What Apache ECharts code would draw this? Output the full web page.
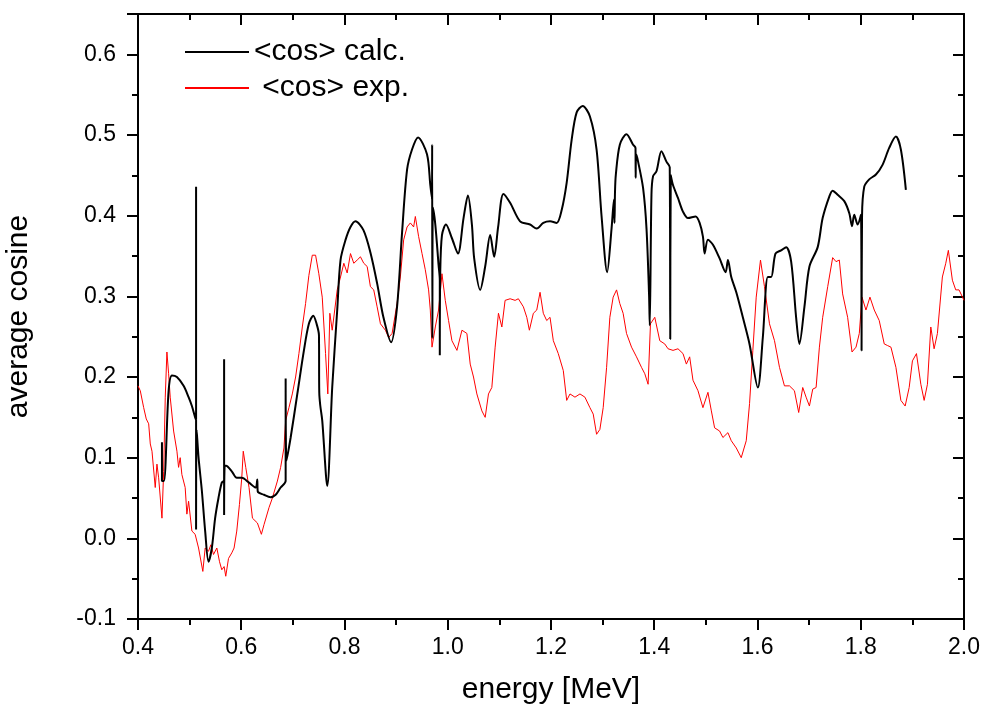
<!DOCTYPE html>
<html>
<head>
<meta charset="utf-8">
<title>average cosine</title>
<script src="https://cdn.jsdelivr.net/npm/echarts@6/dist/echarts.min.js"></script>
<style>
    html, body {margin: 0; padding: 0; background: #ffffff;}
    #chart {width: 984px; height: 713px;}
</style>
</head>
<body>
<div id="chart"></div>
<script>
// energy [MeV], <cos>
var calcPoints = [
    [0.4464, 0.119], [0.4464, 0.071], [0.4502, 0.071], [0.4593, 0.183], [0.4657, 0.202], [0.4754, 0.200],
    [0.4883, 0.189], [0.498, 0.175], [0.5044, 0.164], [0.5107, 0.150],
    [0.5125, 0.147], [0.5125, 0.436], [0.5125, 0.011], [0.5135, 0.135],
    [0.5173, 0.100], [0.5237, 0.059], [0.5301, 0.009], [0.5366, -0.029], [0.543, -0.012], [0.5494, 0.025],
    [0.5559, 0.050], [0.5623, 0.069],
    [0.5668, 0.072], [0.5668, 0.222], [0.5668, 0.029], [0.568, 0.090],
    [0.5706, 0.090], [0.5816, 0.083], [0.5913, 0.075], [0.601, 0.075], [0.6151, 0.069], [0.628, 0.063],
    [0.631, 0.073], [0.632, 0.058], [0.644, 0.054], [0.657, 0.051], [0.6667, 0.054], [0.6763, 0.063],
    [0.686, 0.071], [0.686, 0.198], [0.6875, 0.096],
    [0.6957, 0.125], [0.7086, 0.179], [0.7214, 0.233], [0.731, 0.266], [0.7395, 0.276], [0.7459, 0.266],
    [0.7505, 0.252], [0.7511, 0.181], [0.753, 0.165], [0.7569, 0.146], [0.7666, 0.065], [0.7762, 0.187],
    [0.7859, 0.283], [0.7923, 0.345], [0.802, 0.370], [0.8116, 0.386], [0.8213, 0.393], [0.8367, 0.382],
    [0.8503, 0.354], [0.8632, 0.316], [0.8754, 0.274], [0.8903, 0.243], [0.9018, 0.287], [0.9115, 0.379],
    [0.9212, 0.457], [0.9308, 0.482], [0.9424, 0.497], [0.9598, 0.476], [0.9662, 0.438],
    [0.9695, 0.420], [0.9698, 0.488], [0.9702, 0.248], [0.9712, 0.410],
    [0.9759, 0.389], [0.9822, 0.339], [0.9846, 0.320], [0.9846, 0.227], [0.9855, 0.330], [0.9888, 0.376],
    [0.9965, 0.389], [1.0081, 0.372], [1.0197, 0.353], [1.0306, 0.397], [1.0391, 0.425], [1.0468, 0.389],
    [1.0512, 0.347], [1.0628, 0.308], [1.0725, 0.337], [1.0822, 0.376], [1.0899, 0.349], [1.0976, 0.386],
    [1.1078, 0.427], [1.1208, 0.416], [1.1401, 0.393], [1.1594, 0.389], [1.1724, 0.384], [1.1851, 0.391],
    [1.1981, 0.393], [1.211, 0.391], [1.2207, 0.407], [1.2304, 0.441], [1.24, 0.494], [1.2497, 0.528],
    [1.2613, 0.536], [1.2754, 0.523], [1.2883, 0.482], [1.298, 0.399], [1.3088, 0.330], [1.3173, 0.384],
    [1.322, 0.420], [1.323, 0.391], [1.324, 0.430], [1.3256, 0.451], [1.3333, 0.488], [1.3463, 0.501],
    [1.359, 0.488], [1.3637, 0.484], [1.364, 0.447], [1.365, 0.476], [1.3687, 0.467], [1.3784, 0.434],
    [1.385, 0.384], [1.39, 0.301], [1.3913, 0.264], [1.3946, 0.426], [1.3977, 0.449], [1.4043, 0.455],
    [1.4139, 0.480], [1.4236, 0.467], [1.430, 0.460], [1.431, 0.247], [1.432, 0.450], [1.4363, 0.438],
    [1.4459, 0.422], [1.4556, 0.405], [1.4653, 0.397], [1.4802, 0.399], [1.4879, 0.391], [1.4943, 0.374],
    [1.4976, 0.353], [1.504, 0.370], [1.5137, 0.364], [1.5266, 0.347], [1.5382, 0.330], [1.5427, 0.345],
    [1.5492, 0.324], [1.5589, 0.305], [1.5716, 0.274], [1.5845, 0.241], [1.6006, 0.187], [1.6103, 0.249],
    [1.62, 0.324], [1.6265, 0.324], [1.6348, 0.353], [1.6458, 0.357], [1.6555, 0.361], [1.6652, 0.343],
    [1.6748, 0.274], [1.6812, 0.241], [1.6909, 0.287], [1.7006, 0.337], [1.7166, 0.361], [1.7262, 0.397],
    [1.7392, 0.424], [1.7455, 0.431], [1.7552, 0.426], [1.7681, 0.418], [1.7778, 0.403], [1.783, 0.387],
    [1.7874, 0.401], [1.7939, 0.389], [1.8004, 0.401], [1.8016, 0.233], [1.8025, 0.400], [1.8068, 0.436],
    [1.8164, 0.445], [1.8294, 0.451], [1.8422, 0.463], [1.8551, 0.484], [1.868, 0.498], [1.8777, 0.482],
    [1.8874, 0.432]
];

var expPoints = [
    [0.400, 0.189], [0.4044, 0.183], [0.4077, 0.185], [0.411, 0.162], [0.416, 0.148], [0.4207, 0.142],
    [0.4238, 0.117], [0.4271, 0.108], [0.4334, 0.063], [0.4367, 0.092], [0.44, 0.075], [0.4464, 0.025],
    [0.4497, 0.083], [0.4528, 0.175], [0.456, 0.231], [0.4593, 0.204], [0.4624, 0.175], [0.469, 0.133],
    [0.4754, 0.108], [0.4786, 0.088], [0.4817, 0.100], [0.485, 0.079], [0.4914, 0.063], [0.4947, 0.030],
    [0.498, 0.046], [0.5044, 0.009], [0.5107, 0.005], [0.5173, -0.012], [0.5256, -0.041], [0.5301, -0.012],
    [0.5366, -0.016], [0.5411, -0.008], [0.5463, -0.020], [0.5527, -0.012], [0.5579, -0.029], [0.5623, -0.039],
    [0.5668, -0.035], [0.570, -0.047], [0.5753, -0.025], [0.5817, -0.018], [0.5861, -0.012], [0.5913, 0.009],
    [0.5965, 0.042], [0.601, 0.075], [0.6039, 0.108], [0.6087, 0.088], [0.6151, 0.063], [0.6217, 0.025],
    [0.6313, 0.019], [0.639, 0.005], [0.6441, 0.017], [0.6537, 0.038], [0.6603, 0.050], [0.67, 0.071],
    [0.6763, 0.088], [0.6827, 0.112], [0.686, 0.146], [0.6924, 0.162], [0.6989, 0.179], [0.7053, 0.200],
    [0.7117, 0.229], [0.7183, 0.262], [0.7246, 0.291], [0.731, 0.326], [0.7376, 0.351], [0.744, 0.351],
    [0.7503, 0.328], [0.7569, 0.299], [0.7633, 0.229], [0.7677, 0.179], [0.7716, 0.279], [0.7762, 0.258],
    [0.7859, 0.308], [0.7923, 0.324], [0.7987, 0.341], [0.8052, 0.329], [0.8116, 0.353], [0.818, 0.341],
    [0.8246, 0.345], [0.8309, 0.349], [0.8373, 0.341], [0.8439, 0.337], [0.8502, 0.312], [0.8566, 0.308],
    [0.8632, 0.287], [0.8696, 0.266], [0.8792, 0.258], [0.8856, 0.249], [0.8922, 0.254], [0.9018, 0.291],
    [0.9082, 0.324], [0.9146, 0.370], [0.9212, 0.386], [0.9276, 0.391], [0.9339, 0.386], [0.9372, 0.399],
    [0.9436, 0.374], [0.9502, 0.353], [0.9565, 0.333], [0.9629, 0.308], [0.9662, 0.283], [0.9695, 0.237],
    [0.9759, 0.262], [0.9822, 0.283], [0.9888, 0.328], [0.9952, 0.295], [1.0016, 0.270], [1.0081, 0.245],
    [1.0178, 0.233], [1.0275, 0.258], [1.0371, 0.254], [1.0435, 0.216], [1.0499, 0.200], [1.0564, 0.179],
    [1.0661, 0.158], [1.0725, 0.150], [1.0789, 0.179], [1.0854, 0.187], [1.0918, 0.237], [1.0982, 0.279],
    [1.1048, 0.262], [1.1111, 0.295], [1.1208, 0.297], [1.1305, 0.295], [1.1368, 0.297], [1.1465, 0.287],
    [1.1531, 0.274], [1.1581, 0.258], [1.1658, 0.279], [1.1724, 0.283], [1.1788, 0.305], [1.1851, 0.279],
    [1.1917, 0.270], [1.1981, 0.274], [1.2045, 0.245], [1.2141, 0.229], [1.2238, 0.208], [1.2304, 0.171],
    [1.2368, 0.179], [1.2464, 0.175], [1.2561, 0.179], [1.2657, 0.175], [1.2754, 0.162], [1.2818, 0.154],
    [1.2883, 0.129], [1.2947, 0.135], [1.3011, 0.162], [1.3077, 0.212], [1.314, 0.274], [1.3204, 0.299],
    [1.327, 0.308], [1.3333, 0.291], [1.3397, 0.279], [1.3463, 0.254], [1.356, 0.237], [1.3656, 0.225],
    [1.3753, 0.212], [1.3817, 0.204], [1.3881, 0.191], [1.3927, 0.266], [1.401, 0.274], [1.4107, 0.245],
    [1.4203, 0.241], [1.4267, 0.235], [1.4364, 0.233], [1.446, 0.235], [1.4557, 0.229], [1.4622, 0.216],
    [1.4686, 0.225], [1.475, 0.196], [1.4847, 0.183], [1.4943, 0.162], [1.504, 0.181], [1.5106, 0.158],
    [1.5169, 0.137], [1.5266, 0.133], [1.533, 0.125], [1.5427, 0.131], [1.5492, 0.121], [1.5589, 0.112],
    [1.5685, 0.100], [1.5782, 0.121], [1.5846, 0.167], [1.591, 0.233], [1.5975, 0.299], [1.6058, 0.345],
    [1.6135, 0.312], [1.6232, 0.266], [1.6329, 0.245], [1.6426, 0.212], [1.6522, 0.189], [1.6619, 0.189],
    [1.6715, 0.183], [1.6798, 0.156], [1.6876, 0.187], [1.6941, 0.175], [1.7006, 0.164], [1.707, 0.185],
    [1.7135, 0.187], [1.7199, 0.237], [1.7263, 0.274], [1.736, 0.312], [1.7456, 0.348], [1.7521, 0.343],
    [1.7585, 0.345], [1.7649, 0.303], [1.7746, 0.274], [1.7831, 0.231], [1.7908, 0.237], [1.7972, 0.254],
    [1.8024, 0.299], [1.8101, 0.283], [1.8178, 0.299], [1.8262, 0.283], [1.8358, 0.270], [1.8455, 0.241],
    [1.8519, 0.239], [1.8585, 0.237], [1.8681, 0.212], [1.8777, 0.171], [1.886, 0.164], [1.8938, 0.187],
    [1.9001, 0.220], [1.9079, 0.229], [1.9164, 0.191], [1.9228, 0.171], [1.9292, 0.191], [1.9357, 0.262],
    [1.9421, 0.235], [1.9485, 0.254], [1.9581, 0.324], [1.9647, 0.341], [1.9697, 0.357], [1.9775, 0.320],
    [1.9840, 0.308], [1.9904, 0.308], [2.000, 0.295]
];

var seriesNames = ['<cos> calc.', ' <cos> exp.'];
var xRange = [0.4, 2.0];
var yRange = [-0.1, 0.65];

var FONT = '"Liberation Sans", Arial, sans-serif';

var myChart = echarts.init(document.getElementById('chart'), null, {renderer: 'canvas'});

var axisLine = {show: true, onZero: false, lineStyle: {color: '#000', width: 2}};

var option = {
    animation: false,
    backgroundColor: '#ffffff',
    // fixed plot box, do not let the names push it around
    grid: {left: 138, right: 20, top: 14, bottom: 94, containLabel: false, outerBoundsMode: 'none'},
    legend: {
        orient: 'vertical',
        left: 179,
        top: 32,
        itemWidth: 64,
        itemHeight: 14,
        itemGap: 6,
        data: seriesNames,
        itemStyle: {opacity: 0},
        textStyle: {fontFamily: FONT, fontSize: 30, color: '#000'}
    },
    xAxis: [{
        type: 'value',
        min: xRange[0],
        max: xRange[1],
        interval: 0.2,
        name: 'energy [MeV]',
        nameLocation: 'middle',
        nameGap: 56,
        nameTextStyle: {fontFamily: FONT, fontSize: 30, color: '#000'},
        axisLine: axisLine,
        axisTick: {show: true, inside: false, length: 11, lineStyle: {color: '#000', width: 2}},
        minorTick: {show: true, splitNumber: 2, length: 6, lineStyle: {color: '#000', width: 2}},
        axisLabel: {
            margin: 17,
            fontFamily: FONT,
            fontSize: 23,
            color: '#000',
            formatter: function (v) { return v.toFixed(1); }
        },
        splitLine: {show: false}
    }, {
        type: 'value',
        position: 'top',
        min: xRange[0],
        max: xRange[1],
        interval: 0.2,
        axisLine: axisLine,
        axisTick: {show: true, inside: true, length: 11, lineStyle: {color: '#000', width: 2}},
        minorTick: {show: true, splitNumber: 2, length: 6, lineStyle: {color: '#000', width: 2}},
        axisLabel: {show: false},
        splitLine: {show: false}
    }],
    yAxis: [{
        type: 'value',
        min: yRange[0],
        max: yRange[1],
        interval: 0.1,
        name: 'average cosine',
        nameLocation: 'middle',
        nameGap: 104,
        nameTextStyle: {fontFamily: FONT, fontSize: 30, color: '#000'},
        axisLine: axisLine,
        axisTick: {show: true, inside: false, length: 11, lineStyle: {color: '#000', width: 2}},
        minorTick: {show: true, splitNumber: 2, length: 6, lineStyle: {color: '#000', width: 2}},
        axisLabel: {
            margin: 22,
            fontFamily: FONT,
            fontSize: 23,
            color: '#000',
            showMaxLabel: false,
            formatter: function (v) { return v > 0.62 ? '' : v.toFixed(1); }
        },
        splitLine: {show: false}
    }, {
        type: 'value',
        position: 'right',
        min: yRange[0],
        max: yRange[1],
        interval: 0.1,
        axisLine: axisLine,
        axisTick: {show: true, inside: true, length: 11, lineStyle: {color: '#000', width: 2}},
        minorTick: {show: true, splitNumber: 2, length: 6, lineStyle: {color: '#000', width: 2}},
        axisLabel: {show: false},
        splitLine: {show: false}
    }],
    series: [{
        name: seriesNames[0],
        type: 'line',
        data: calcPoints,
        symbol: 'none',
        showSymbol: false,
        smooth: 0.3,
        lineStyle: {color: '#000000', width: 2},
        itemStyle: {color: '#000000'},
        z: 3
    }, {
        name: seriesNames[1],
        type: 'line',
        data: expPoints,
        symbol: 'none',
        showSymbol: false,
        lineStyle: {color: '#ff0000', width: 1},
        itemStyle: {color: '#ff0000'},
        z: 2
    }]
};

if (option && typeof option === "object") {
    myChart.setOption(option, true);
}
</script>
</body>
</html>
